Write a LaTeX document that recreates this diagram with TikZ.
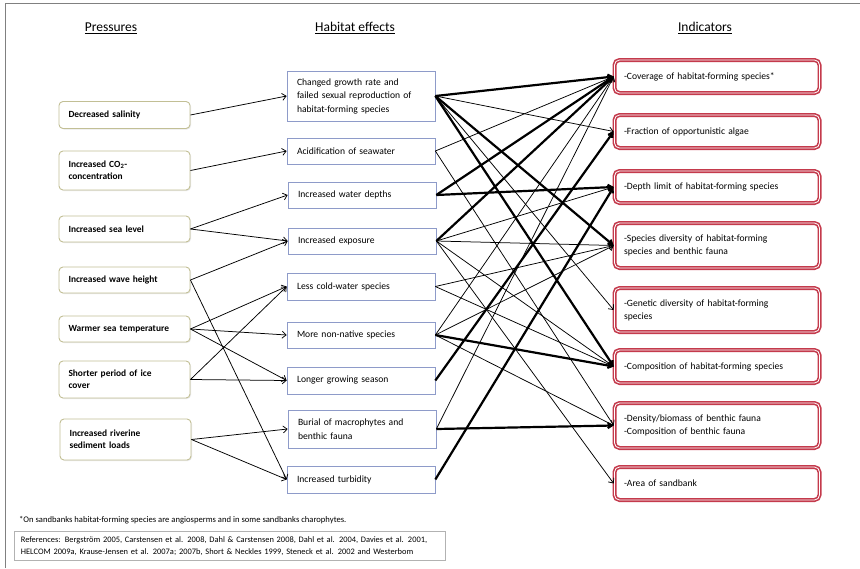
\documentclass[tikz,border=0pt]{standalone}
\usepackage{fontspec}
\setmainfont{Carlito}
\usetikzlibrary{arrows.meta,positioning,shadows}
\definecolor{pbord}{HTML}{C2BF95}
\definecolor{hbord}{HTML}{8E9BC9}
\definecolor{ired}{HTML}{C43A4C}
\tikzset{
  pbox/.style={draw=pbord, line width=0.9pt, rounded corners=4pt, fill=white, drop shadow={opacity=0.18, shadow xshift=1pt, shadow yshift=-1pt}, minimum width=131pt, text width=112pt, align=left, inner sep=0pt, font=\fontsize{9.4}{12}\selectfont\bfseries},
  hbox/.style={draw=hbord, line width=0.7pt, fill=white, minimum width=148pt, text width=128pt, align=left, inner sep=0pt, font=\fontsize{9.6}{13.5}\selectfont},
  ibox/.style={draw=ired, line width=1.6pt, double=white, double distance=0.8pt, rounded corners=5pt, fill=white, minimum width=205pt, text width=186pt, align=left, inner sep=0pt, font=\fontsize{9.6}{13}\selectfont},
  hdr/.style={font=\fontsize{13.5}{15}\selectfont, inner sep=1pt},
  ta/.style={draw, line width=0.75pt, -{Straight Barb[length=4pt,width=7pt]}},
  tk/.style={draw, line width=2.2pt, -{Straight Barb[length=4pt,width=5pt]}},
}
\begin{document}
\begin{tikzpicture}[x=1pt,y=-1pt]
\useasboundingbox (0,0) rectangle (860,568);
\draw[gray, line width=1pt] (5,568) -- (5,3) -- (860,3);
% headers
\node[hdr] (hp) at (111,28) {\underline{Pressures}};
\node[hdr] (hh) at (355,28) {\underline{Habitat effects}};
\node[hdr] (hi) at (705,28) {\underline{Indicators}};
% pressures
\node[pbox, minimum height=27pt] (p1) at (124.5,115) {Decreased salinity};
\node[pbox, minimum height=39pt] (p2) at (124.5,170.5) {Increased CO\textsubscript{2}-\\concentration};
\node[pbox, minimum height=26pt] (p3) at (124.5,229) {Increased sea level};
\node[pbox, minimum height=26pt] (p4) at (124.5,280) {Increased wave height};
\node[pbox, minimum height=26pt] (p5) at (124.5,329) {Warmer sea temperature};
\node[pbox, minimum height=37pt] (p6) at (124.5,379.5) {Shorter period of ice\\cover};
\node[pbox, minimum height=41pt] (p7) at (125.5,439.5) {Increased riverine\\sediment loads};
% habitat effects
\node[hbox, minimum height=50pt] (h1) at (361,96) {Changed growth rate and\\failed sexual reproduction of\\habitat-forming species};
\node[hbox, minimum height=26pt] (h2) at (361,151) {Acidification of seawater};
\node[hbox, minimum height=26pt] (h3) at (362,195) {Increased water depths};
\node[hbox, minimum height=26pt] (h4) at (362,241) {Increased exposure};
\node[hbox, minimum height=27pt] (h5) at (361,286.5) {Less cold-water species};
\node[hbox, minimum height=26pt] (h6) at (361,335) {More non-native species};
\node[hbox, minimum height=27pt] (h7) at (361,380.5) {Longer growing season};
\node[hbox, minimum height=38pt] (h8) at (362,429) {Burial of macrophytes and\\benthic fauna};
\node[hbox, minimum height=27pt] (h9) at (361,479.5) {Increased turbidity};
% indicators
\node[ibox, minimum height=33pt] (i1) at (717,76.5) {-Coverage of habitat-forming species*};
\node[ibox, minimum height=33pt] (i2) at (717,131.5) {-Fraction of opportunistic algae};
\node[ibox, minimum height=32pt] (i3) at (717,187) {-Depth limit of habitat-forming species};
\node[ibox, minimum height=45pt] (i4) at (717,245.5) {-Species diversity of habitat-forming\\species and benthic fauna};
\node[ibox, minimum height=44pt] (i5) at (717,310) {-Genetic diversity of habitat-forming\\species};
\node[ibox, minimum height=33pt] (i6) at (717,366.5) {-Composition of habitat-forming species};
\node[ibox, minimum height=45pt] (i7) at (717,425.5) {-Density/biomass of benthic fauna\\-Composition of benthic fauna};
\node[ibox, minimum height=33pt] (i8) at (717,483.5) {-Area of sandbank};
% footnote and references
\node[anchor=west, inner sep=0pt, font=\fontsize{8.6}{10}\selectfont] (fn) at (19,520) {*On sandbanks habitat-forming species are angiosperms and in some sandbanks charophytes.};
\node[draw=gray!60, line width=0.7pt, anchor=north west, minimum width=431pt, minimum height=29pt, text width=418pt, align=left, inner sep=0pt, font=\fontsize{8.4}{12}\selectfont] (ref) at (14,531) {References: Bergstr\"om 2005, Carstensen et al. 2008, Dahl \& Carstensen 2008, Dahl et al. 2004, Davies et al. 2001,\\HELCOM 2009a, Krause-Jensen et al. 2007a; 2007b, Short \& Neckles 1999, Steneck et al. 2002 and Westerbom};
% pressures -> habitat effects
\draw[ta] (p1.east) -- (h1.west);
\draw[ta] (p2.east) -- (h2.west);
\draw[ta] (p3.east) -- (h3.west);
\draw[ta] (p3.east) -- (h4.west);
\draw[ta] (p4.east) -- (h4.west);
\draw[ta] (p4.east) -- (h9.west);
\draw[ta] (p5.east) -- (h5.west);
\draw[ta] (p5.east) -- (h6.west);
\draw[ta] (p5.east) -- (h7.west);
\draw[ta] (p6.east) -- (h5.west);
\draw[ta] (p6.east) -- (h7.west);
\draw[ta] (p7.east) -- (h8.west);
\draw[ta] (p7.east) -- (h9.west);
% habitat effects -> indicators (thick)
\draw[tk] (h1.east) -- (i1.west);
\draw[tk] (h1.east) -- (i4.west);
\draw[tk] (h1.east) -- (i6.west);
\draw[tk] (h3.east) -- (i1.west);
\draw[tk] (h3.east) -- (i3.west);
\draw[tk] (h4.east) -- (i1.west);
\draw[tk] (h6.east) -- (i6.west);
\draw[tk] (h7.east) -- (i2.west);
\draw[tk] (h8.east) -- (i7.west);
\draw[tk] (h9.east) -- (i3.west);
% habitat effects -> indicators (thin)
\draw[ta] (h1.east) -- (i2.west);
\draw[ta] (h1.east) -- (i5.west);
\draw[ta] (h2.east) -- (i1.west);
\draw[ta] (h2.east) -- (i7.west);
\draw[ta] (h4.east) -- (i3.west);
\draw[ta] (h4.east) -- (i4.west);
\draw[ta] (h4.east) -- (i6.west);
\draw[ta] (h4.east) -- (i8.west);
\draw[ta] (h5.east) -- (i4.west);
\draw[ta] (h5.east) -- (i6.west);
\draw[ta] (h6.east) -- (i1.west);
\draw[ta] (h6.east) -- (i4.west);
\draw[ta] (h6.east) -- (i7.west);
\draw[ta] (h8.east) -- (i1.west);
\end{tikzpicture}
\end{document}
